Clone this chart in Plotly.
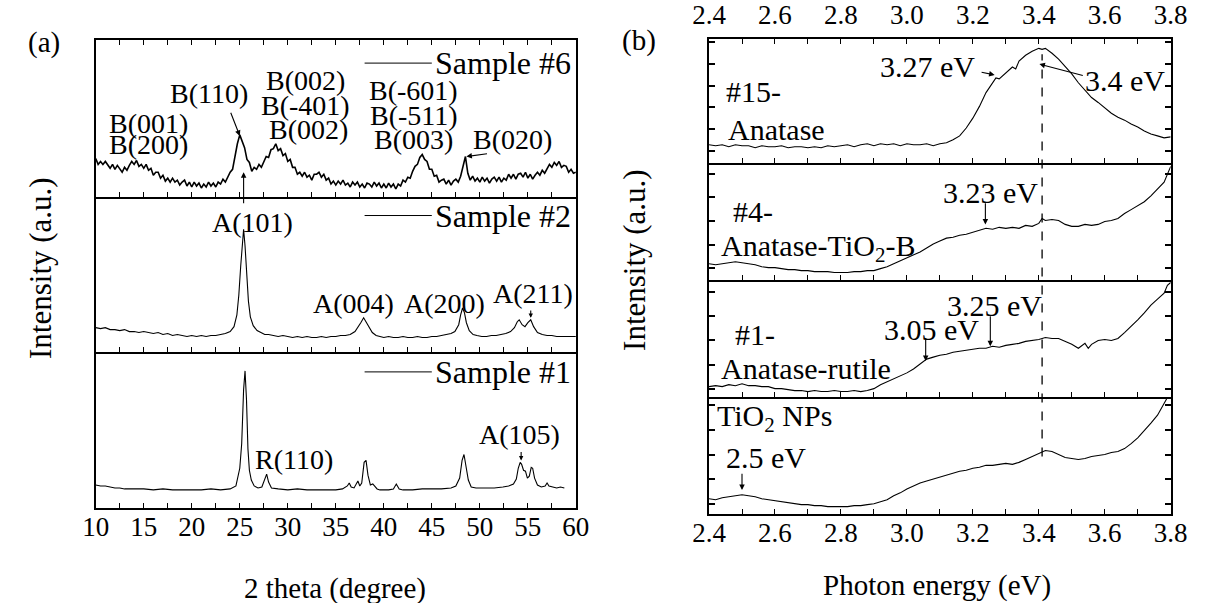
import plotly.graph_objects as go

# ---------------- Panel (a) : XRD -----------------
tt6 = [10.00,10.25,10.50,10.75,11.00,11.25,11.50,11.75,12.00,12.25,12.50,12.75,13.00,13.25,13.50,13.75,14.00,14.25,14.50,14.75,
       15.00,15.25,15.50,15.75,16.00,16.25,16.50,16.75,17.00,17.25,17.50,17.75,18.00,18.25,18.50,18.75,19.00,19.25,19.50,19.75,
       20.00,20.25,20.50,20.75,21.00,21.25,21.50,21.75,22.00,22.25,22.50,22.75,23.00,23.25,23.50,23.75,24.00,24.25,24.50,24.75,
       25.00,25.25,25.50,25.75,26.00,26.25,26.50,26.75,27.00,27.25,27.50,27.75,28.00,28.25,28.50,28.75,29.00,29.25,29.50,29.75,
       30.00,30.25,30.50,30.75,31.00,31.25,31.50,31.75,32.00,32.25,32.50,32.75,33.00,33.25,33.50,33.75,34.00,34.25,34.50,34.75,
       35.00,35.25,35.50,35.75,36.00,36.25,36.50,36.75,37.00,37.25,37.50,37.75,38.00,38.25,38.50,38.75,39.00,39.25,39.50,39.75,
       40.00,40.25,40.50,40.75,41.00,41.25,41.50,41.75,42.00,42.25,42.50,42.75,43.00,43.25,43.50,43.75,44.00,44.25,44.50,44.75,
       45.00,45.25,45.50,45.75,46.00,46.25,46.50,46.75,47.00,47.25,47.50,47.75,48.00,48.25,48.50,48.75,49.00,49.25,49.50,49.75,
       50.00,50.25,50.50,50.75,51.00,51.25,51.50,51.75,52.00,52.25,52.50,52.75,53.00,53.25,53.50,53.75,54.00,54.25,54.50,54.75,
       55.00,55.25,55.50,55.75,56.00,56.25,56.50,56.75,57.00,57.25,57.50,57.75,58.00,58.25,58.50,58.75,59.00,59.25,59.50,59.75,60.00]
int6 = [39,33,36,33,36,32,29,33,28,32,28,25,30,27,32,36,33,37,31,33,
        29,33,27,29,22,25,25,19,22,16,19,15,19,15,17,12,15,17,11,15,
        10,15,11,14,9,13,10,15,11,14,10,15,13,18,15,21,25,28,42,54,
        63,56,50,38,35,26,30,28,33,30,35,41,40,48,49,54,47,49,42,44,
        36,38,30,30,23,25,21,25,20,22,17,23,23,25,20,23,17,19,13,16,
        12,16,13,17,12,14,10,15,12,15,10,13,9,14,13,10,15,11,14,9,
        13,9,14,10,13,8,13,11,17,15,20,19,26,31,33,40,43,38,36,28,
        28,21,22,15,17,18,13,17,12,16,18,15,21,32,41,24,17,21,16,19,
        15,20,16,19,14,18,20,16,20,15,19,17,23,19,23,18,23,24,20,25,
        19,23,18,22,25,22,27,24,29,33,30,35,32,36,30,32,31,25,28,24,25]

tt2 = [10,10.5,11,11.5,12,12.5,13,13.5,14,14.5,15,15.5,16,16.5,17,17.5,18,18.5,19,19.5,20,20.5,21,21.5,22,22.5,23,23.5,24,
       24.4,24.7,24.9,25.1,25.25,25.4,25.55,25.7,25.9,26.1,26.4,26.8,27.2,27.6,28,28.5,29,29.5,30,30.5,31,31.5,32,32.5,33,
       33.5,34,34.5,35,35.5,36,36.5,37,37.3,37.6,37.9,38.2,38.5,38.8,39.2,39.6,40,40.5,41,41.5,42,42.5,43,43.5,44,44.5,45,
       45.5,46,46.5,47,47.4,47.8,48.0,48.2,48.4,48.6,48.9,49.3,49.7,50.2,50.7,51.2,51.7,52.2,52.7,53.2,53.6,53.9,54.1,54.4,
       54.7,55.0,55.3,55.6,56.0,56.5,57,57.5,58,58.5,59,59.5,60]
int2 = [25,24,25,23,23,22,23,21,21,20,21,20,19,20,18,19,17,18,17,16,17,16,17,16,17,17,18,19,21,
        26,38,58,88,112,125,108,80,52,36,27,22,20,18,18,17,16,17,16,15,16,15,16,15,15,
        16,15,16,16,17,17,18,21,25,30,35,30,24,20,17,16,15,16,15,15,16,15,15,16,15,15,16,
        16,17,18,19,21,28,38,45,40,30,22,18,17,16,16,17,17,18,19,21,25,31,33,28,
        26,30,33,26,20,18,17,17,16,16,16,16,16]

tt1 = [10,10.5,11,11.5,12,12.5,13,14,15,16,17,18,19,20,21,22,23,24,24.6,25.0,25.2,25.4,25.55,25.7,25.85,26.0,26.2,26.5,
       26.9,27.3,27.6,27.8,28.0,28.3,29,30,31,32,33,34,35,35.7,36.2,36.4,36.6,36.9,37.1,37.3,37.5,37.7,37.95,38.15,38.35,
       38.6,38.85,39.05,39.3,39.6,40,40.5,41.0,41.3,41.6,42,43,44,45,46,47,47.5,47.9,48.15,48.35,48.55,48.8,49.1,49.6,50.5,
       51.5,52.4,53,53.5,53.8,54.0,54.2,54.35,54.55,54.75,54.95,55.15,55.35,55.5,55.7,56.0,56.4,56.8,57.0,57.2,57.6,58.0,
       58.4,58.8]
int1 = [23,22,22,21,20,20,19,19,19,18,19,18,18,18,18,19,18,19,22,40,65,120,139,110,60,38,28,22,
        20,21,28,34,26,20,19,18,19,18,18,18,18,19,22,25,21,20,23,27,22,25,46,48,33,
        23,24,22,19,18,18,18,19,24,19,18,18,19,19,19,20,22,30,48,54,44,28,21,20,20,
        20,21,22,24,29,40,46,44,38,37,30,32,41,40,30,23,21,22,25,22,21,20,
        21,20]

# ---------------- Panel (b) : spectra -----------------
e15 = [2.40,2.42,2.44,2.46,2.48,2.50,2.52,2.54,2.56,2.58,2.60,2.62,2.64,2.66,2.68,2.70,2.72,2.74,2.76,2.78,2.80,2.82,2.84,
       2.86,2.88,2.90,2.92,2.94,2.96,2.98,3.00,3.02,3.04,3.06,3.08,3.10,3.12,3.14,3.16,3.18,3.20,3.22,3.24,3.26,3.27,3.28,
       3.30,3.32,3.33,3.34,3.36,3.38,3.40,3.41,3.42,3.44,3.46,3.48,3.50,3.52,3.54,3.56,3.58,3.60,3.62,3.64,3.66,3.68,3.70,
       3.72,3.74,3.76,3.78,3.80]
s15 = [19,18,19,17,19,18,18,16,18,17,17,18,16,17,17,16,17,16,18,17,18,19,17,
       19,20,18,20,19,20,18,20,19,19,20,18,20,21,24,28,36,46,58,72,82,87,86,
       92,98,96,104,110,114,117,116,117,112,106,99,91,82,74,67,62,56,51,47,44,40,37,
       33,30,28,26,27]

e4 = [2.40,2.42,2.44,2.46,2.48,2.50,2.52,2.54,2.56,2.58,2.60,2.62,2.64,2.66,2.68,2.70,2.72,2.74,2.76,2.78,2.80,2.82,2.84,
      2.86,2.88,2.90,2.92,2.94,2.96,2.98,3.00,3.02,3.04,3.06,3.08,3.10,3.12,3.14,3.16,3.18,3.20,3.22,3.24,3.26,3.28,3.30,
      3.32,3.34,3.36,3.38,3.40,3.41,3.42,3.44,3.46,3.48,3.50,3.52,3.54,3.56,3.58,3.60,3.62,3.64,3.66,3.68,3.70,3.72,3.74,
      3.76,3.78,3.80]
s4 = [17,16,17,18,19,18,17,16,14,13,13,12,11,11,10,10,9,9,9,8,8,8,9,
      9,10,10,12,14,17,20,23,26,29,33,37,40,43,44,46,47,49,51,53,52,54,53,
      54,53,56,55,58,63,61,62,61,57,55,55,57,56,57,60,61,63,68,72,76,80,86,
      93,100,116]

e1 = [2.40,2.42,2.44,2.46,2.48,2.50,2.52,2.54,2.56,2.58,2.60,2.62,2.64,2.66,2.68,2.70,2.72,2.74,2.76,2.78,2.80,2.82,2.84,
      2.86,2.88,2.90,2.92,2.94,2.96,2.98,3.00,3.02,3.04,3.06,3.08,3.10,3.12,3.14,3.16,3.18,3.20,3.22,3.24,3.26,3.28,3.30,
      3.32,3.34,3.36,3.38,3.40,3.42,3.44,3.46,3.48,3.50,3.52,3.54,3.55,3.56,3.58,3.60,3.62,3.64,3.66,3.68,3.70,3.72,3.74,
      3.76,3.78,3.79,3.80]
s1 = [11,12,11,13,12,14,12,12,11,11,9,9,8,7,7,6,7,6,6,7,6,6,7,
      6,7,9,13,16,19,22,25,29,34,39,41,43,44,46,47,48,49,50,50,52,51,53,
      54,55,57,58,59,61,60,60,57,54,50,55,50,54,58,59,58,60,66,72,79,86,94,
      100,106,114,117]

enp = [2.40,2.42,2.44,2.46,2.48,2.50,2.52,2.54,2.56,2.58,2.60,2.62,2.64,2.66,2.68,2.70,2.72,2.74,2.76,2.78,2.80,2.82,2.84,
       2.86,2.88,2.90,2.92,2.94,2.96,2.98,3.00,3.02,3.04,3.06,3.08,3.10,3.12,3.14,3.16,3.18,3.20,3.22,3.24,3.26,3.28,3.30,
       3.32,3.34,3.36,3.38,3.40,3.42,3.44,3.46,3.48,3.50,3.52,3.54,3.56,3.58,3.60,3.62,3.64,3.66,3.68,3.70,3.72,3.74,3.76,
       3.78,3.79]
snp = [15,14,16,17,18,19,18,17,15,14,13,12,11,10,9,9,8,8,7,7,7,7,8,
       8,9,10,12,14,18,21,25,28,31,33,35,37,39,41,43,44,46,47,49,49,50,51,
       50,52,55,58,61,64,63,60,57,56,55,56,58,59,60,62,63,66,71,77,84,92,100,
       112,118]

xrd_ticks = [10, 15, 20, 25, 30, 35, 40, 45, 50, 55, 60]
pe_ticks = [2.4, 2.6, 2.8, 3.0, 3.2, 3.4, 3.6, 3.8]
pe_labels = ["2.4", "2.6", "2.8", "3.0", "3.2", "3.4", "3.6", "3.8"]

FONT = "Liberation Serif"
W, H = 1212, 603

def py(p):
    return (H - p) / H

def px(p):
    return p / W

fig = go.Figure()
line = dict(color="black", width=1.1)
fig.add_trace(go.Scatter(x=tt6, y=int6, mode="lines", line=dict(color="black", width=1.6), xaxis="x2", yaxis="y2", showlegend=False))
fig.add_trace(go.Scatter(x=tt2, y=int2, mode="lines", line=line, xaxis="x3", yaxis="y3", showlegend=False))
fig.add_trace(go.Scatter(x=tt1, y=int1, mode="lines", line=line, xaxis="x", yaxis="y", showlegend=False))
fig.add_trace(go.Scatter(x=e15, y=s15, mode="lines", line=line, xaxis="x4", yaxis="y4", showlegend=False))
fig.add_trace(go.Scatter(x=e4, y=s4, mode="lines", line=line, xaxis="x5", yaxis="y5", showlegend=False))
fig.add_trace(go.Scatter(x=e1, y=s1, mode="lines", line=line, xaxis="x6", yaxis="y6", showlegend=False))
fig.add_trace(go.Scatter(x=enp, y=snp, mode="lines", line=line, xaxis="x7", yaxis="y7", showlegend=False))

tickfont = dict(family=FONT, size=27, color="black")

def xa(domain, anchor, rng, labels, side="bottom", kind="a", mirror=False, standoff=-6):
    d = dict(domain=domain, anchor=anchor, range=rng, showline=True, linewidth=2, linecolor="black",
             mirror=mirror, ticks="inside", ticklen=5, tickwidth=1.3, tickcolor="black",
             showgrid=False, zeroline=False, showticklabels=labels, side=side, tickfont=tickfont,
             ticklabelstandoff=standoff)
    if kind == "a":
        d.update(tickvals=xrd_ticks, minor=dict(ticks="inside", ticklen=5, tickwidth=1.3, dtick=2.5, tick0=10, tickcolor="black"))
    else:
        d.update(tickvals=pe_ticks, ticktext=pe_labels,
                 minor=dict(ticks="inside", ticklen=5, tickwidth=1.3, dtick=0.1, tick0=2.4, tickcolor="black"))
    return d

def ya(domain, anchor, rng, ticks=False, tick0=0, dtick=20):
    d = dict(domain=domain, anchor=anchor, range=rng, showline=True, linewidth=2, linecolor="black",
             mirror=True, showgrid=False, zeroline=False, showticklabels=False)
    if ticks:
        d.update(ticks="inside", ticklen=6, tickwidth=1.5, tickcolor="black", tick0=tick0, dtick=dtick, mirror="ticks")
    else:
        d.update(ticks="")
    return d

ax0, ax1 = px(81), px(575)
bx0, bx1 = px(712), px(1187)
fig.update_layout(
    xaxis=xa([ax0, ax1], "y", [10, 60], True),
    yaxis=ya([py(506), py(348)], "x", [0, 158]),
    xaxis3=xa([ax0, ax1], "y3", [10, 60], False),
    yaxis3=ya([py(348), py(190)], "x3", [0, 158]),
    xaxis2=xa([ax0, ax1], "y2", [10, 60], False, mirror="ticks"),
    yaxis2=ya([py(190), py(31)], "x2", [0, 159]),
    xaxis4=xa([bx0, bx1], "y4", [2.4, 3.8], True, side="top", kind="b", mirror="ticks", standoff=2),
    yaxis4=ya([py(156), py(29)], "x4", [0, 127], True, 13, 22),
    xaxis5=xa([bx0, bx1], "y5", [2.4, 3.8], False, kind="b"),
    yaxis5=ya([py(275), py(156)], "x5", [0, 119], True, 12.5, 24),
    xaxis6=xa([bx0, bx1], "y6", [2.4, 3.8], False, kind="b"),
    yaxis6=ya([py(394), py(275)], "x6", [0, 119], True, 9, 24.5),
    xaxis7=xa([bx0, bx1], "y7", [2.4, 3.8], True, kind="b"),
    yaxis7=ya([py(512), py(394)], "x7", [0, 118], True, 10, 25),
)

ann = []
def txt(x, y, t, xr, yr, size=28, xanchor="center"):
    ann.append(dict(x=x, y=y, text=t, xref=xr, yref=yr, showarrow=False, xanchor=xanchor, yanchor="middle",
                    font=dict(family=FONT, size=size, color="black")))

def arrow(x0, y0, x1, y1, xr, yr, hs=1.0):
    ann.append(dict(x=x1, y=y1, ax=x0, ay=y0, xref=xr, yref=yr, axref=xr, ayref=yr, text="", showarrow=True,
                    arrowhead=2, arrowsize=hs, arrowwidth=1.1, arrowcolor="black", standoff=0, startstandoff=0))

# panel (a) top
txt(15.5, 75, "B(001)", "x2", "y2")
txt(15.5, 53, "B(200)", "x2", "y2")
txt(21.8, 105, "B(110)", "x2", "y2")
arrow(24.0, 87, 25.0, 62, "x2", "y2")
txt(31.8, 118, "B(002)", "x2", "y2")
txt(31.8, 93, "B(-401)", "x2", "y2")
txt(32.2, 68, "B(002)", "x2", "y2")
txt(43.1, 108, "B(-601)", "x2", "y2")
txt(43.1, 83, "B(-511)", "x2", "y2")
txt(43.1, 58, "B(003)", "x2", "y2")
txt(53.4, 58, "B(020)", "x2", "y2")
arrow(50.9, 44, 48.6, 41, "x2", "y2")
txt(59.7, 136, "Sample #6", "x2", "y2", size=32, xanchor="right")
# panel (a) middle
txt(26.3, 132, "A(101)", "x3", "y3")
arrow(25.4, 150, 25.4, 183, "x3", "y3")
txt(36.8, 50, "A(004)", "x3", "y3")
txt(46.3, 50, "A(200)", "x3", "y3")
txt(55.5, 60, "A(211)", "x3", "y3")
arrow(55.3, 44, 55.3, 35, "x3", "y3", 0.8)
txt(59.7, 139, "Sample #2", "x3", "y3", size=32, xanchor="right")
# panel (a) bottom
txt(30.6, 49, "R(110)", "x", "y")
txt(54.1, 74, "A(105)", "x", "y")
arrow(54.3, 58, 54.3, 48, "x", "y", 0.8)
txt(59.7, 138, "Sample #1", "x", "y", size=32, xanchor="right")

# panel (b)
BS = 30
txt(2.444, 73, "#15-", "x4", "y4", BS, "left")
txt(2.45, 34, "Anatase", "x4", "y4", BS, "left")
txt(3.063, 99, "3.27 eV", "x4", "y4", BS)
arrow(3.222, 93, 3.266, 90, "x4", "y4")
txt(3.79, 84, "3.4 eV", "x4", "y4", BS, "right")
arrow(3.538, 89, 3.402, 101, "x4", "y4")

txt(2.468, 70, "#4-", "x5", "y5", BS, "left")
txt(2.43, 33, "Anatase-TiO<sub>2</sub>-B", "x5", "y5", BS, "left")
txt(3.255, 89, "3.23 eV", "x5", "y5", BS)
arrow(3.238, 80, 3.238, 57, "x5", "y5")

txt(2.474, 64, "#1-", "x6", "y6", BS, "left")
txt(2.43, 29, "Anatase-rutile", "x6", "y6", BS, "left")
txt(3.075, 69, "3.05 eV", "x6", "y6", BS)
arrow(3.057, 62, 3.057, 37, "x6", "y6")
txt(3.266, 94, "3.25 eV", "x6", "y6", BS)
arrow(3.253, 84, 3.253, 52, "x6", "y6")

txt(2.418, 97, "TiO<sub>2</sub> NPs", "x7", "y7", BS, "left")
txt(2.444, 57, "2.5 eV", "x7", "y7", BS, "left")
arrow(2.5, 42, 2.5, 24, "x7", "y7")

# titles and panel letters
txt(px(327), py(588), "2 theta (degree)", "paper", "paper", 29)
txt(px(947), py(585), "Photon energy (eV)", "paper", "paper", 29)
txt(px(28), py(33), "(a)", "paper", "paper", 29)
txt(px(640), py(31), "(b)", "paper", "paper", 29)
for xx, yy in ((24, 262), (636, 254)):
    ann.append(dict(x=px(xx), y=py(yy), text="Intensity (a.u.)", xref="paper", yref="paper", showarrow=False,
                    textangle=-90, xanchor="center", yanchor="middle",
                    font=dict(family=FONT, size=31, color="black")))

shapes = []
for xr, yr, v in (("x2", "y2", 136), ("x3", "y3", 139), ("x", "y", 138)):
    shapes.append(dict(type="line", xref=xr, yref=yr, x0=38.0, x1=45.0, y0=v, y1=v, line=dict(color="black", width=1)))
shapes.append(dict(type="line", xref="x4", yref="paper", x0=3.41, x1=3.41, y0=py(454), y1=py(45),
                   line=dict(color="black", width=1.3, dash="dash")))

fig.update_layout(annotations=ann, shapes=shapes, width=W, height=H,
                  margin=dict(l=0, r=0, t=0, b=0), paper_bgcolor="white", plot_bgcolor="white",
                  font=dict(family=FONT, color="black"))

fig.write_html("out.html", config={"displayModeBar": False},
               post_script="document.body.style.margin='0px';document.body.style.overflow='hidden';")
